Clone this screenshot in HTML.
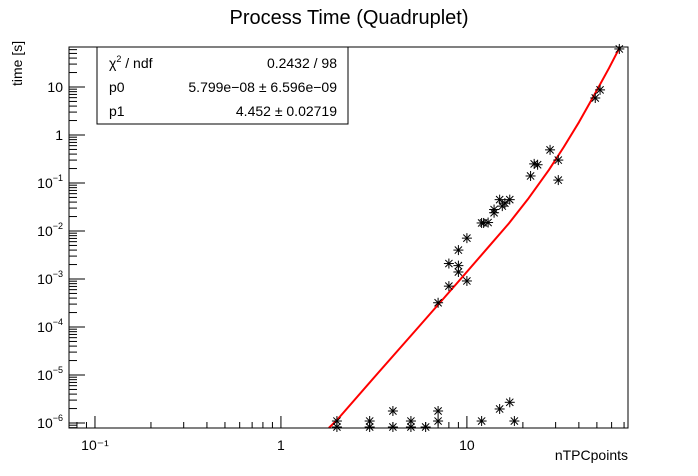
<!DOCTYPE html>
<html><head><meta charset="utf-8">
<style>
html,body{margin:0;padding:0;background:#fff;}
svg{display:block;font-family:"Liberation Sans",Arial,sans-serif;}
</style></head>
<body>
<svg id="chart" width="698" height="476" viewBox="0 0 698 476" xmlns="http://www.w3.org/2000/svg">
  <rect x="0" y="0" width="698" height="476" fill="#fff"/>
  <text x="349" y="24" font-size="20" text-anchor="middle">Process Time (Quadruplet)</text>
  <g id="axes"></g>
  <g id="fitline"></g>
  <g id="points"></g>
  <rect x="69" y="47" width="559" height="381" fill="none" stroke="#000" stroke-width="1"/>
  <text x="628" y="460" font-size="14" text-anchor="end">nTPCpoints</text>
  <text transform="translate(22,86) rotate(-90)" font-size="14" text-anchor="start">time [s]</text>
  <g>
    <rect x="97" y="47" width="251" height="77" fill="#fff" stroke="#000" stroke-width="1"/>
    <text x="109" y="68" font-size="14">χ<tspan font-size="9" dy="-6">2</tspan><tspan dy="6"> / ndf</tspan></text>
    <text x="337" y="68" font-size="14" text-anchor="end">0.2432 / 98</text>
    <text x="109" y="92" font-size="14">p0</text>
    <text x="337" y="92" font-size="14" text-anchor="end">5.799e−08 ± 6.596e−09</text>
    <text x="109" y="116" font-size="14">p1</text>
    <text x="337" y="116" font-size="14" text-anchor="end">4.452 ± 0.02719</text>
  </g>
</svg>
<script>
const xVals = [2,2,3,3,4,4,5,5,6,7,7,12,15,17,18,
  7,8,8,9,9,9,10,10,12,12.3,13,14,14,15,15.5,16,17,22,23,24,28,31,31,49,52,66];
const yVals = [1.1e-6,8.2e-7,1.1e-6,8.2e-7,1.78e-6,8.2e-7,1.1e-6,8.2e-7,8.2e-7,1.78e-6,1.1e-6,1.1e-6,1.96e-6,2.7e-6,1.1e-6,
  3.2e-4,7.1e-4,2.1e-3,4.0e-3,1.9e-3,1.4e-3,7.1e-3,9.1e-4,0.0147,0.0147,0.015,0.028,0.024,0.045,0.033,0.038,0.045,0.14,0.25,0.24,0.49,0.30,0.115,5.9,8.7,62];
const fitX = [1.81,2.0,3.36,5.52,9.06,13.1,16.8,21.5,27.6,33.2,40.0,48.2,58.0,66.5];
const fitY = [7.9e-7,1.15e-6,1.15e-5,1.02e-4,9.1e-4,4.71e-3,0.0143,0.0484,0.1875,0.562,1.84,6.62,24.5,67.8];
const xTickLabels = ["10⁻¹","1","10"];
const xTickValues = [0.1,1,10];
const yTickValues = [1e-6,1e-5,1e-4,1e-3,1e-2,1e-1,1,10];
const yTickExp = ["−6","−5","−4","−3","−2","−1","",""];

const L=69,R=628,T=47,B=428;
const xmin=Math.log10(0.0725), xmax=Math.log10(73.5);
const ymin=-6.104, ymax=1.833;
function sx(v){return L+(Math.log10(v)-xmin)/(xmax-xmin)*(R-L);}
function sy(v){return B-(Math.log10(v)-ymin)/(ymax-ymin)*(B-T);}
const NS="http://www.w3.org/2000/svg";
function mk(tag,attrs,parent){const e=document.createElementNS(NS,tag);for(const k in attrs)e.setAttribute(k,attrs[k]);parent.appendChild(e);return e;}

const axes=document.getElementById('axes');
for(let d=-2; d<=1; d++){
  for(let m=1;m<=9;m++){
    const v=m*Math.pow(10,d);
    if(v<0.0725||v>73.5) continue;
    const x=sx(v), len=(m===1)?12:6;
    const t=mk('line',{x1:x,y1:B,x2:x,y2:B-len,stroke:'#000','stroke-width':1},axes);
    
    
  }
}
xTickValues.forEach((v,i)=>{
  const x=sx(v);
  const t=mk('text',{x:x,y:450,'font-size':14,'text-anchor':'middle'},axes);
  t.textContent=xTickLabels[i];
  
  
});
for(let d=-7; d<=1; d++){
  for(let m=1;m<=9;m++){
    const v=m*Math.pow(10,d);
    const lv=Math.log10(v);
    if(lv<ymin||lv>ymax) continue;
    const y=sy(v), len=(m===1)?16:8;
    const t=mk('line',{x1:L,y1:y,x2:L+len,y2:y,stroke:'#000','stroke-width':1},axes);
    
    
  }
}
yTickValues.forEach((v,i)=>{
  const y=sy(v)+5;
  const t=mk('text',{x:63,y:y,'font-size':14,'text-anchor':'end'},axes);
  if(yTickExp[i]!==""){
    t.textContent="10";
    const s=mk('tspan',{'font-size':9,dy:-7},t);
    s.textContent=yTickExp[i];
  } else {
    t.textContent = v>=10 ? "10" : "1";
  }
  
  
});

const fg=document.getElementById('fitline');
let pts=fitX.map((x,i)=>{let y=Math.max(sy(fitY[i]),T);return sx(x).toFixed(1)+','+Math.min(y,B).toFixed(1);}).join(' ');
const pl=mk('polyline',{points:pts,fill:'none',stroke:'#ff0000','stroke-width':2,'stroke-linejoin':'round'},fg);



const pg=document.getElementById('points');
xVals.forEach((xv,i)=>{
  const x=sx(xv), y=Math.min(sy(yVals[i]),B-1);
  const r=5, d=3.6;
  const g=mk('g',{stroke:'#000','stroke-width':1},pg);
  
  
  mk('line',{x1:x-r,y1:y,x2:x+r,y2:y},g);
  mk('line',{x1:x,y1:y-r,x2:x,y2:y+r},g);
  mk('line',{x1:x-d,y1:y-d,x2:x+d,y2:y+d},g);
  mk('line',{x1:x-d,y1:y+d,x2:x+d,y2:y-d},g);
});
</script>
</body></html>
